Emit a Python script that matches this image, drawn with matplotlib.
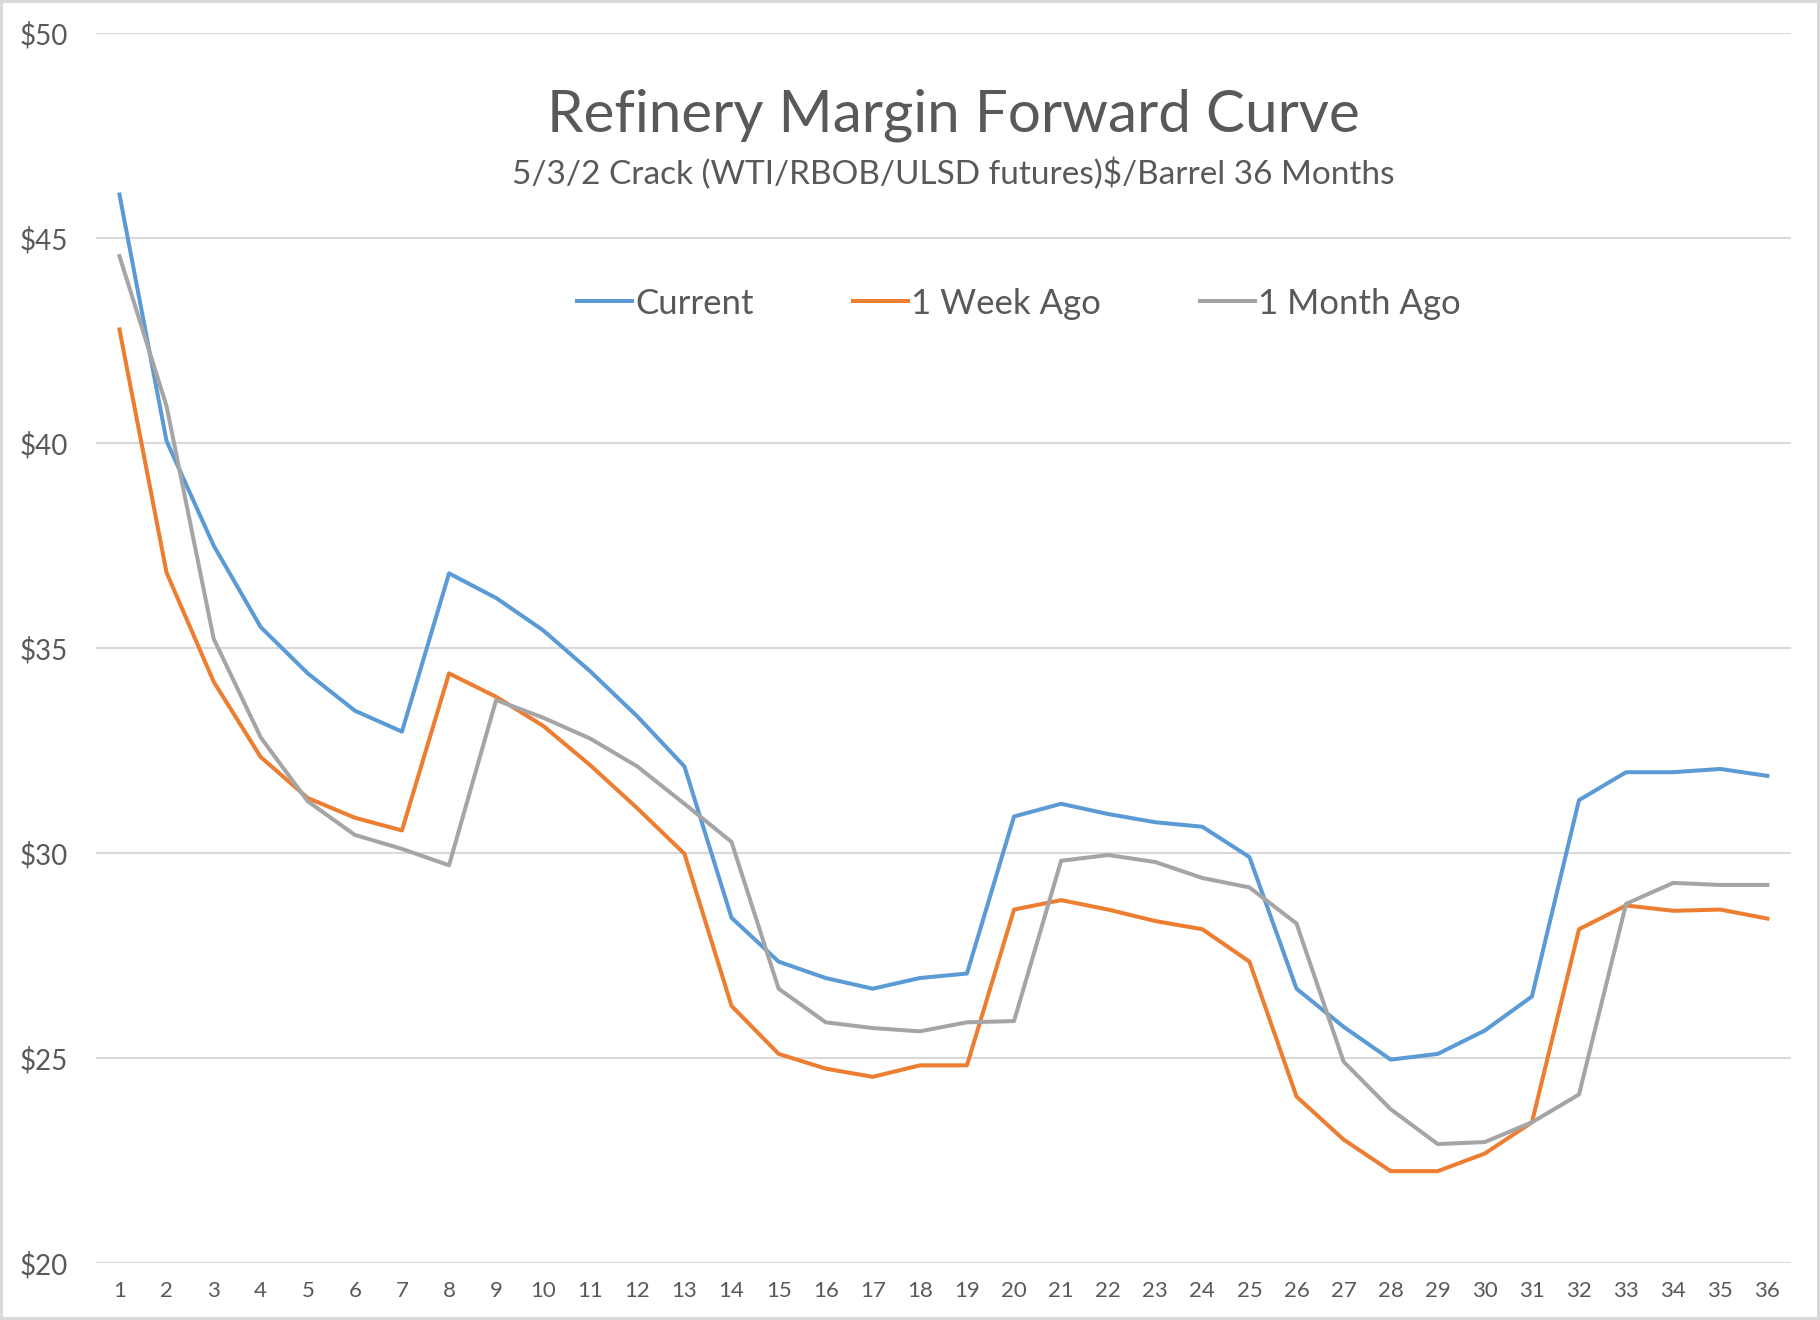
import numpy as np
import matplotlib.pyplot as plt

plt.rcParams['font.family'] = ['Lato', 'DejaVu Sans']

months = list(range(1, 37))
current = [46.06, 40.05, 37.5, 35.51, 34.38, 33.47, 32.96, 36.82, 36.22, 35.43,
           34.43, 33.33, 32.11, 28.42, 27.35, 26.95, 26.69, 26.95, 27.06, 30.89,
           31.2, 30.95, 30.75, 30.64, 29.9, 26.69, 25.76, 24.96, 25.1, 25.67,
           26.5, 31.29, 31.97, 31.97, 32.05, 31.88]
week_ago = [42.77, 36.84, 34.18, 32.34, 31.34, 30.86, 30.55, 34.38, 33.81, 33.1,
            32.14, 31.09, 29.98, 26.27, 25.1, 24.74, 24.54, 24.82, 24.82, 28.62,
            28.85, 28.62, 28.34, 28.14, 27.35, 24.06, 23.01, 22.24, 22.24, 22.67,
            23.43, 28.14, 28.72, 28.59, 28.62, 28.4]
month_ago = [44.56, 40.9, 35.23, 32.82, 31.26, 30.44, 30.1, 29.7, 33.73, 33.3,
             32.79, 32.11, 31.2, 30.27, 26.69, 25.87, 25.73, 25.65, 25.87, 25.9,
             29.81, 29.95, 29.78, 29.39, 29.16, 28.28, 24.91, 23.75, 22.9, 22.95,
             23.43, 24.11, 28.76, 29.27, 29.22, 29.22]
yticks = [20, 25, 30, 35, 40, 45, 50]

txt = '#595959'
fig = plt.figure(figsize=(18.2, 13.2), dpi=100)
fig.patch.set_edgecolor('#d9d9d9')
fig.patch.set_linewidth(3)
ax = fig.add_axes([0.0527, 0.0432, 0.9313, 0.9318])

ax.plot(months, current, color='#5B9BD5', lw=2.9, label='Current')
ax.plot(months, week_ago, color='#ED7D31', lw=2.9, label='1 Week Ago')
ax.plot(months, month_ago, color='#A5A5A5', lw=2.9, label='1 Month Ago')

ax.set_xlim(0.5, 36.5)
ax.set_ylim(20, 50)
ax.set_yticks(yticks)
ax.set_yticklabels([f'${v}' for v in yticks])
ax.set_xticks(months)
ax.grid(axis='y', color='#d9d9d9', lw=1.5)
ax.set_axisbelow(True)
for s in ax.spines.values():
    s.set_visible(False)
ax.tick_params(axis='y', length=0, pad=20, labelsize=20, labelcolor=txt)
ax.tick_params(axis='x', length=0, pad=13, labelsize=16, labelcolor=txt)

fig.text(0.524, 0.913, 'Refinery Margin Forward Curve', ha='center', va='center',
         fontsize=42, color=txt)
fig.text(0.524, 0.868, '5/3/2 Crack (WTI/RBOB/ULSD futures)$/Barrel 36 Months',
         ha='center', va='center', fontsize=24, color=txt)

leg = ax.legend(loc='center', bbox_to_anchor=(0.56, 0.77), bbox_transform=fig.transFigure,
                ncol=3, frameon=False, fontsize=25, handlelength=1.58, handletextpad=0.1,
                columnspacing=2.85)
for t in leg.get_texts():
    t.set_color(txt)

fig.savefig('out.png', dpi=100)
